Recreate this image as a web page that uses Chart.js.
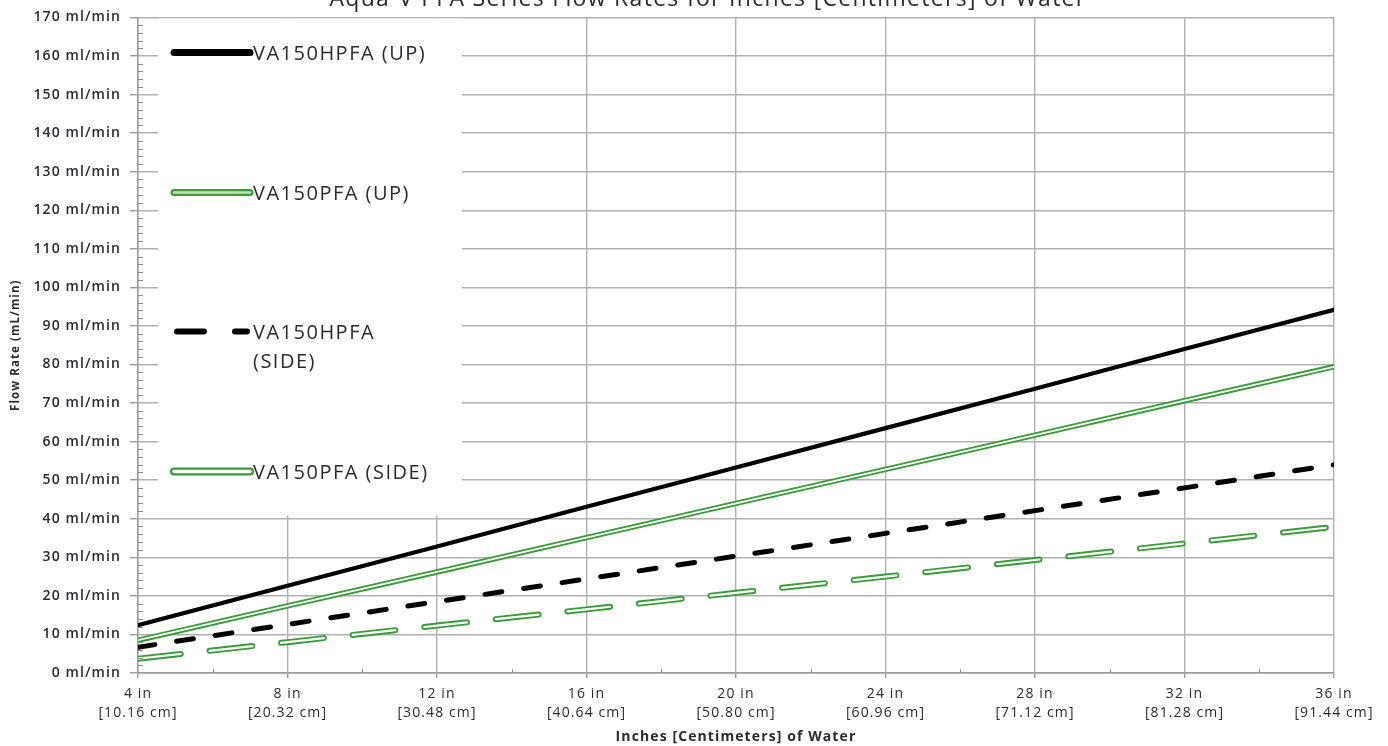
<!DOCTYPE html>
<html>
<head>
<meta charset="utf-8">
<title>Aqua-V PFA Series Flow Rates</title>
<script src="https://cdn.jsdelivr.net/npm/chart.js@4.4.1/dist/chart.umd.min.js"></script>
<style>
    html, body { margin: 0; padding: 0; background: #ffffff; }
    #wrap { position: relative; width: 1388px; height: 746px; overflow: hidden; }
</style>
</head>
<body>
<div id="wrap"><canvas id="flowChart" width="1388" height="746"></canvas></div>
<script>
// ============================================
// DATA
// ============================================
const inches = [4, 8, 12, 16, 20, 24, 28, 32, 36];
const cmLabels = ['[10.16 cm]', '[20.32 cm]', '[30.48 cm]', '[40.64 cm]', '[50.80 cm]',
                  '[60.96 cm]', '[71.12 cm]', '[81.28 cm]', '[91.44 cm]'];
const hpfaUp   = [12.4, 22.6, 32.8, 43.1, 53.3, 63.5, 73.7, 84.0, 94.2];
const pfaUp    = [8.5, 17.4, 26.2, 35.1, 44.0, 52.8, 61.7, 70.6, 79.4];
const hpfaSide = [6.7, 12.6, 18.5, 24.4, 30.3, 36.2, 42.1, 48.0, 54.0];
const pfaSide  = [3.7, 8.0, 12.3, 16.5, 20.8, 25.0, 29.3, 33.6, 37.9];
const seriesNames = ['VA150HPFA (UP)', 'VA150PFA (UP)', ['VA150HPFA', '(SIDE)'], 'VA150PFA (SIDE)'];
const chartTitle = 'Aqua-V PFA Series Flow Rates for Inches [Centimeters] of Water';
const xTitle = 'Inches [Centimeters] of Water';
const yTitle = 'Flow Rate (mL/min)';

const GREEN = '#3b9c3b';
const FONT = "'Open Sans', sans-serif";
const TEXT = '#2a2a33';

const toPoints = vals => inches.map((x, i) => ({ x: x, y: vals[i] }));

// ============================================
// PLUGINS
// ============================================

/**
 * Wider letter spacing for all chart text (the source font runs wide)
 */
const spacing = {
    id: 'spacing',
    beforeDraw(chart) {
        chart.ctx.letterSpacing = '1.1px';
    }
};

/**
 * White legend box drawn over the grid, with one symbol per series
 */
const legendBox = {
    id: 'legendBox',
    beforeDatasetsDraw(chart) {
        const { ctx, chartArea } = chart;
        const left = chartArea.left;
        const top = chartArea.top;

        ctx.save();
        ctx.fillStyle = '#ffffff';
        ctx.fillRect(left + 20, top + 1, 304, 497);

        const rows = [35, 175, 314, 454];
        const x0 = left + 36;
        const x1 = left + 112;

        rows.forEach((dy, i) => {
            const y = top + dy;
            ctx.lineCap = 'round';
            ctx.setLineDash([]);
            if (i === 0) {
                ctx.strokeStyle = '#000';
                ctx.lineWidth = 7;
                line(ctx, x0, x1, y);
            } else if (i === 1) {
                ctx.strokeStyle = GREEN;
                ctx.lineWidth = 7;
                line(ctx, x0, x1, y);
                ctx.strokeStyle = '#bfe3bf';
                ctx.lineWidth = 2.5;
                line(ctx, x0, x1, y);
            } else if (i === 2) {
                ctx.strokeStyle = '#000';
                ctx.lineWidth = 6;
                ctx.setLineDash([27, 31]);
                line(ctx, x0 + 3, x1 - 3, y);
            } else {
                ctx.strokeStyle = GREEN;
                ctx.lineWidth = 8;
                line(ctx, x0, x1, y);
                ctx.strokeStyle = '#ffffff';
                ctx.lineWidth = 3.5;
                line(ctx, x0, x1, y);
            }

            ctx.setLineDash([]);
            ctx.fillStyle = TEXT;
            ctx.font = '20px ' + FONT;
            ctx.letterSpacing = '1.5px';
            ctx.textAlign = 'left';
            ctx.textBaseline = 'middle';
            const name = seriesNames[i];
            if (Array.isArray(name)) {
                name.forEach((t, k) => ctx.fillText(t, left + 115, y + 2 + k * 29));
            } else {
                ctx.fillText(name, left + 115, y + 2);
            }
        });
        ctx.restore();

        function line(c, a, b, y) {
            c.beginPath();
            c.moveTo(a, y);
            c.lineTo(b, y);
            c.stroke();
        }
    }
};

/**
 * Minor tick marks and the (mostly cropped) chart title
 */
const extras = {
    id: 'extras',
    afterDraw(chart) {
        const { ctx, chartArea, scales } = chart;
        ctx.save();
        ctx.strokeStyle = '#8c8c8c';
        ctx.lineWidth = 1;

        for (let v = scales.x.min + 2; v < scales.x.max; v += 4) {
            const px = Math.round(scales.x.getPixelForValue(v)) + 0.5;
            ctx.beginPath();
            ctx.moveTo(px, chartArea.bottom);
            ctx.lineTo(px, chartArea.bottom - 4);
            ctx.stroke();
        }
        for (let v = scales.y.min + 2; v < scales.y.max; v += 2) {
            if (v % 10 === 0) continue;
            const py = Math.round(scales.y.getPixelForValue(v)) + 0.5;
            ctx.beginPath();
            ctx.moveTo(chartArea.left, py);
            ctx.lineTo(chartArea.left + 5, py);
            ctx.stroke();
        }

        ctx.fillStyle = TEXT;
        ctx.font = '23px ' + FONT;
        ctx.letterSpacing = '1.3px';
        ctx.textAlign = 'center';
        ctx.textBaseline = 'alphabetic';
        ctx.fillText(chartTitle, 708, 6);
        ctx.restore();
    }
};

// ============================================
// CHART
// ============================================
const ctx = document.getElementById('flowChart');

new Chart(ctx, {
    type: 'line',
    data: {
        datasets: [
            {
                label: 'VA150HPFA (UP)',
                data: toPoints(hpfaUp),
                borderColor: '#000000',
                borderWidth: 4.2,
                borderCapStyle: 'round'
            },
            {
                label: 'VA150PFA (UP) inner',
                data: toPoints(pfaUp),
                borderColor: '#ffffff',
                borderWidth: 1.8
            },
            {
                label: 'VA150PFA (UP)',
                data: toPoints(pfaUp),
                borderColor: GREEN,
                borderWidth: 5.5
            },
            {
                label: 'VA150HPFA (SIDE)',
                data: toPoints(hpfaSide),
                borderColor: '#000000',
                borderWidth: 5,
                borderDash: [17, 22],
                borderCapStyle: 'round'
            },
            {
                label: 'VA150PFA (SIDE) inner',
                data: toPoints(pfaSide),
                borderColor: '#ffffff',
                borderWidth: 2.2,
                borderDash: [43, 29],
                borderCapStyle: 'round'
            },
            {
                label: 'VA150PFA (SIDE)',
                data: toPoints(pfaSide),
                borderColor: GREEN,
                borderWidth: 6,
                borderDash: [43, 29],
                borderCapStyle: 'round'
            }
        ]
    },
    options: {
        responsive: false,
        animation: false,
        layout: { padding: { top: 17, right: 54, left: 0, bottom: 0 } },
        elements: {
            point: { radius: 0, hoverRadius: 0 },
            line: { tension: 0, fill: false }
        },
        plugins: {
            legend: { display: false },
            tooltip: { enabled: false },
            title: { display: false }
        },
        scales: {
            x: {
                type: 'linear',
                min: 4,
                max: 36,
                afterFit(scale) { scale.height = 73; },
                ticks: {
                    stepSize: 4,
                    autoSkip: false,
                    maxRotation: 0,
                    padding: 6,
                    color: TEXT,
                    font: { family: FONT, size: 14, weight: '500', lineHeight: 1.36 },
                    callback: v => {
                        const i = inches.indexOf(v);
                        return i < 0 ? '' : [v + ' in', cmLabels[i]];
                    }
                },
                grid: {
                    color: '#b0b0b0',
                    lineWidth: 1.4,
                    tickLength: 5,
                    tickColor: '#9a9a9a'
                },
                border: { color: '#9a9a9a', width: 1.4 },
                title: {
                    display: true,
                    text: xTitle,
                    color: TEXT,
                    font: { family: FONT, size: 14, weight: 'bold' },
                    padding: { top: 2, bottom: 1 }
                }
            },
            y: {
                min: 0,
                max: 170,
                afterFit(scale) { scale.width = 138; },
                ticks: {
                    stepSize: 10,
                    padding: 9,
                    color: TEXT,
                    font: { family: FONT, size: 14, weight: '600' },
                    callback: v => v + ' ml/min'
                },
                grid: {
                    color: '#b0b0b0',
                    lineWidth: 1.4,
                    tickLength: 8,
                    tickColor: '#9a9a9a'
                },
                border: { color: '#9a9a9a', width: 1.4 },
                title: {
                    display: true,
                    text: yTitle,
                    color: TEXT,
                    font: { family: FONT, size: 11.5, weight: 'bold' },
                    padding: { top: 9, bottom: 0 }
                }
            }
        }
    },
    plugins: [spacing, legendBox, extras]
});
</script>
</body>
</html>
